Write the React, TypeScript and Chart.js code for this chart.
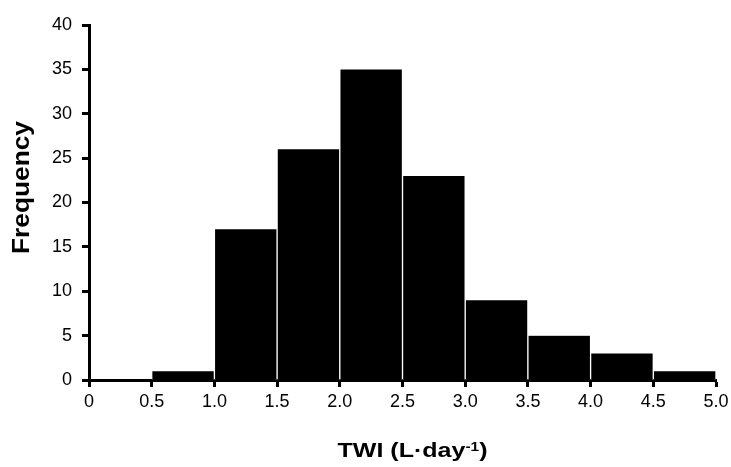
import React, { useEffect, useRef } from "react";
import { Chart, registerables } from "chart.js";

Chart.register(...registerables);

// ---- data ----
const binStarts = [0, 0.5, 1.0, 1.5, 2.0, 2.5, 3.0, 3.5, 4.0, 4.5];
const binWidth = 0.5;
const frequencies = [0, 1, 17, 26, 35, 23, 9, 5, 3, 1];
const xTickValues = [0, 0.5, 1.0, 1.5, 2.0, 2.5, 3.0, 3.5, 4.0, 4.5, 5.0];
const xTickLabels = ["0", "0.5", "1.0", "1.5", "2.0", "2.5", "3.0", "3.5", "4.0", "4.5", "5.0"];
const yTickValues = [0, 5, 10, 15, 20, 25, 30, 35, 40];
const yTickLabels = ["0", "5", "10", "15", "20", "25", "30", "35", "40"];
const yTitle = "Frequency";
const xTitleMain = "TWI (L·day";
const xTitleSup = "-1";
const xTitleEnd = ")";

const FONT = "'Liberation Sans', Arial, Helvetica, sans-serif";

const titlePlugin = {
  id: "customTitles",
  afterDraw(chart: any) {
    const ctx = chart.ctx as CanvasRenderingContext2D;
    const area = chart.chartArea;
    // Y title (rotated)
    ctx.save();
    ctx.fillStyle = "#000";
    ctx.font = `bold 24px ${FONT}`;
    const yw = ctx.measureText(yTitle).width;
    ctx.translate(29, (area.top + area.bottom) / 2 - 15);
    ctx.rotate(-Math.PI / 2);
    ctx.scale(133 / yw, 1);
    ctx.textAlign = "center";
    ctx.textBaseline = "alphabetic";
    ctx.fillText(yTitle, 0, 0);
    ctx.restore();

    // X title with superscript
    ctx.save();
    ctx.fillStyle = "#000";
    ctx.textBaseline = "alphabetic";
    ctx.textAlign = "left";
    const mainFont = `bold 21px ${FONT}`;
    const supFont = `bold 13px ${FONT}`;
    ctx.font = mainFont;
    const w1 = ctx.measureText(xTitleMain).width;
    const w3 = ctx.measureText(xTitleEnd).width;
    ctx.font = supFont;
    const w2 = ctx.measureText(xTitleSup).width;
    const total = w1 + w2 + w3;
    const targetW = 150;
    const cx = (area.left + area.right) / 2 + 10;
    ctx.translate(cx - targetW / 2, chart.height - 10);
    ctx.scale(targetW / total, 1);
    ctx.font = mainFont;
    ctx.fillText(xTitleMain, 0, 0);
    ctx.font = supFont;
    ctx.fillText(xTitleSup, w1, -6);
    ctx.font = mainFont;
    ctx.fillText(xTitleEnd, w1 + w2, 0);
    ctx.restore();
  },
};

export default function App() {
  const canvasRef = useRef<HTMLCanvasElement | null>(null);

  useEffect(() => {
    if (!canvasRef.current) return;
    const chart = new Chart(canvasRef.current, {
      type: "bar",
      data: {
        datasets: [
          {
            label: "Frequency",
            data: binStarts.map((s, i) => ({ x: s + binWidth / 2, y: frequencies[i] })),
            backgroundColor: "#000",
            borderColor: "#fff",
            borderWidth: { left: 1, right: 1, top: 0, bottom: 0 },
            barPercentage: 1,
            categoryPercentage: 1,
          } as any,
        ],
      },
      options: {
        animation: false,
        responsive: false,
        devicePixelRatio: 1,
        layout: { padding: { top: 25, right: 15, left: 0, bottom: 0 } },
        plugins: {
          legend: { display: false },
          tooltip: { enabled: false },
        },
        scales: {
          x: {
            type: "linear",
            min: 0,
            max: 5,
            offset: false,
            afterBuildTicks: (s: any) => {
              s.ticks = xTickValues.map((v) => ({ value: v }));
            },
            afterFit: (s: any) => {
              s.height = 87;
              s.paddingLeft = 0;
              s.paddingRight = 0;
            },
            grid: {
              display: true,
              drawOnChartArea: false,
              drawTicks: true,
              tickLength: 7,
              tickWidth: 3,
              tickColor: "#000",
              offset: false,
            },
            border: { display: true, color: "#000", width: 3 },
            ticks: {
              color: "#000",
              font: { family: FONT, size: 18 },
              padding: 4,
              maxRotation: 0,
              autoSkip: false,
              callback: (v: any) => {
                const i = xTickValues.findIndex((t) => Math.abs(t - Number(v)) < 1e-9);
                return i >= 0 ? xTickLabels[i] : "";
              },
            },
            title: { display: false },
          },
          y: {
            type: "linear",
            min: 0,
            max: 40,
            afterBuildTicks: (s: any) => {
              s.ticks = yTickValues.map((v) => ({ value: v }));
            },
            afterFit: (s: any) => {
              s.width = 89;
              s.paddingTop = 0;
              s.paddingBottom = 0;
            },
            grid: {
              display: true,
              drawOnChartArea: false,
              drawTicks: true,
              tickLength: 7,
              tickWidth: 3,
              tickColor: "#000",
            },
            border: { display: true, color: "#000", width: 3 },
            ticks: {
              color: "#000",
              font: { family: FONT, size: 18 },
              padding: 10,
              autoSkip: false,
              callback: (v: any) => {
                const i = yTickValues.indexOf(Number(v));
                return i >= 0 ? yTickLabels[i] : "";
              },
            },
            title: { display: false },
          },
        },
      } as any,
      plugins: [titlePlugin],
    });
    return () => chart.destroy();
  }, []);

  return (
    <div style={{ position: "absolute", left: 0, top: 0, width: 731, height: 467, background: "#fff" }}>
      <canvas ref={canvasRef} width={731} height={467} style={{ display: "block" }} />
    </div>
  );
}
